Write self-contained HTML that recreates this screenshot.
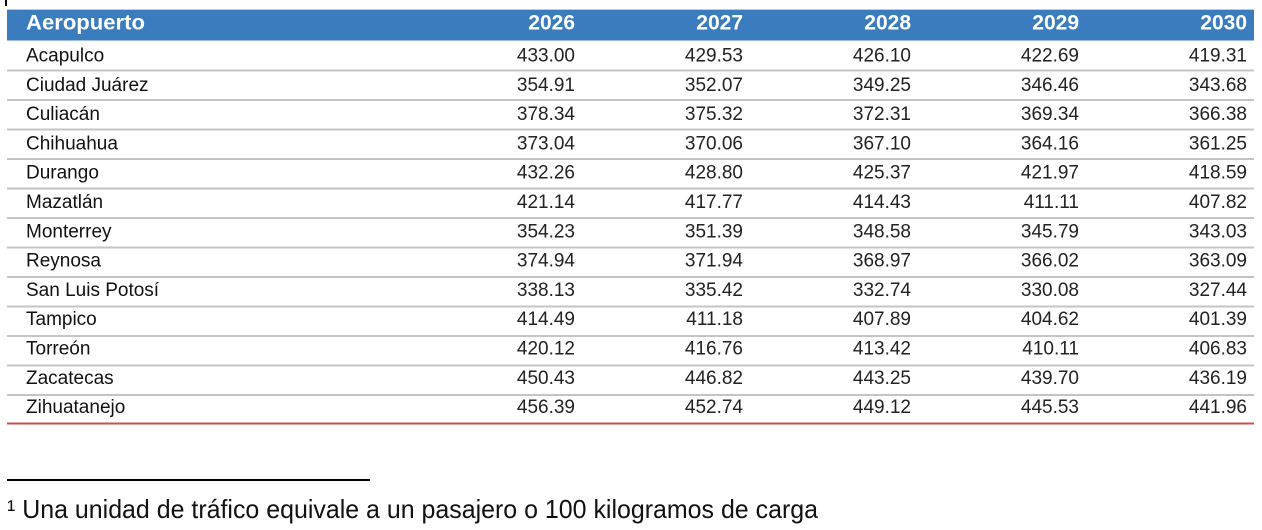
<!DOCTYPE html>
<html>
<head>
<meta charset="utf-8">
<style>
  html,body{margin:0;padding:0;background:#fff;}
  svg{display:block;}
  text{font-family:"Liberation Sans", Arial, sans-serif;}
</style>
</head>
<body>
<svg width="1262" height="530" viewBox="0 0 1262 530" xmlns="http://www.w3.org/2000/svg">
  <rect x="0" y="0" width="1262" height="530" fill="#ffffff"/>
  <rect x="5" y="0" width="2" height="6" fill="#000"/>
  <!-- header -->
  <rect x="7" y="9" width="1247" height="1" fill="#c8c8c8"/>
  <rect x="7" y="10" width="1247" height="30.5" fill="#3a7cbd"/>
  <g fill="#ffffff" font-weight="bold" font-size="21">
    <text x="26" y="29.5" textLength="119" lengthAdjust="spacingAndGlyphs">Aeropuerto</text>
    <text x="575" y="29.5" text-anchor="end">2026</text>
    <text x="743" y="29.5" text-anchor="end">2027</text>
    <text x="911" y="29.5" text-anchor="end">2028</text>
    <text x="1079" y="29.5" text-anchor="end">2029</text>
    <text x="1247" y="29.5" text-anchor="end">2030</text>
  </g>
  <!-- row lines -->
  <g fill="#c4c4c4">
    <rect x="7" y="69.5" width="1247" height="2"/>
    <rect x="7" y="99" width="1247" height="2"/>
    <rect x="7" y="128.5" width="1247" height="2"/>
    <rect x="7" y="158" width="1247" height="2"/>
    <rect x="7" y="187.5" width="1247" height="2"/>
    <rect x="7" y="217" width="1247" height="2"/>
    <rect x="7" y="246.5" width="1247" height="2"/>
    <rect x="7" y="276" width="1247" height="2"/>
    <rect x="7" y="305.5" width="1247" height="2"/>
    <rect x="7" y="335" width="1247" height="2"/>
    <rect x="7" y="364.5" width="1247" height="2"/>
    <rect x="7" y="394" width="1247" height="2"/>
  </g>
  <rect x="7" y="422.5" width="1247" height="2" fill="#c9504f"/>

  <!-- names -->
  <g fill="#111" font-size="19">
    <text x="26" y="61.5">Acapulco</text>
    <text x="26" y="90.8">Ciudad Juárez</text>
    <text x="26" y="120.1">Culiacán</text>
    <text x="26" y="149.4">Chihuahua</text>
    <text x="26" y="178.7">Durango</text>
    <text x="26" y="208">Mazatlán</text>
    <text x="26" y="237.3">Monterrey</text>
    <text x="26" y="266.6">Reynosa</text>
    <text x="26" y="295.9">San Luis Potosí</text>
    <text x="26" y="325.2">Tampico</text>
    <text x="26" y="354.5">Torreón</text>
    <text x="26" y="383.8">Zacatecas</text>
    <text x="26" y="413.1">Zihuatanejo</text>
  </g>

  <!-- values -->
  <g fill="#222" font-size="19" text-anchor="end">
    <g transform="translate(0,61.5)">
      <text x="575">433.00</text><text x="743">429.53</text><text x="911">426.10</text><text x="1079">422.69</text><text x="1247">419.31</text>
    </g>
    <g transform="translate(0,90.8)">
      <text x="575">354.91</text><text x="743">352.07</text><text x="911">349.25</text><text x="1079">346.46</text><text x="1247">343.68</text>
    </g>
    <g transform="translate(0,120.1)">
      <text x="575">378.34</text><text x="743">375.32</text><text x="911">372.31</text><text x="1079">369.34</text><text x="1247">366.38</text>
    </g>
    <g transform="translate(0,149.4)">
      <text x="575">373.04</text><text x="743">370.06</text><text x="911">367.10</text><text x="1079">364.16</text><text x="1247">361.25</text>
    </g>
    <g transform="translate(0,178.7)">
      <text x="575">432.26</text><text x="743">428.80</text><text x="911">425.37</text><text x="1079">421.97</text><text x="1247">418.59</text>
    </g>
    <g transform="translate(0,208)">
      <text x="575">421.14</text><text x="743">417.77</text><text x="911">414.43</text><text x="1079">411.11</text><text x="1247">407.82</text>
    </g>
    <g transform="translate(0,237.3)">
      <text x="575">354.23</text><text x="743">351.39</text><text x="911">348.58</text><text x="1079">345.79</text><text x="1247">343.03</text>
    </g>
    <g transform="translate(0,266.6)">
      <text x="575">374.94</text><text x="743">371.94</text><text x="911">368.97</text><text x="1079">366.02</text><text x="1247">363.09</text>
    </g>
    <g transform="translate(0,295.9)">
      <text x="575">338.13</text><text x="743">335.42</text><text x="911">332.74</text><text x="1079">330.08</text><text x="1247">327.44</text>
    </g>
    <g transform="translate(0,325.2)">
      <text x="575">414.49</text><text x="743">411.18</text><text x="911">407.89</text><text x="1079">404.62</text><text x="1247">401.39</text>
    </g>
    <g transform="translate(0,354.5)">
      <text x="575">420.12</text><text x="743">416.76</text><text x="911">413.42</text><text x="1079">410.11</text><text x="1247">406.83</text>
    </g>
    <g transform="translate(0,383.8)">
      <text x="575">450.43</text><text x="743">446.82</text><text x="911">443.25</text><text x="1079">439.70</text><text x="1247">436.19</text>
    </g>
    <g transform="translate(0,413.1)">
      <text x="575">456.39</text><text x="743">452.74</text><text x="911">449.12</text><text x="1079">445.53</text><text x="1247">441.96</text>
    </g>
  </g>

  <!-- footnote -->
  <rect x="7" y="479" width="363" height="2" fill="#000"/>
  <text x="7" y="518" font-size="26" fill="#111" textLength="811" lengthAdjust="spacingAndGlyphs">¹ Una unidad de tráfico equivale a un pasajero o 100 kilogramos de carga</text>
</svg>
</body>
</html>
